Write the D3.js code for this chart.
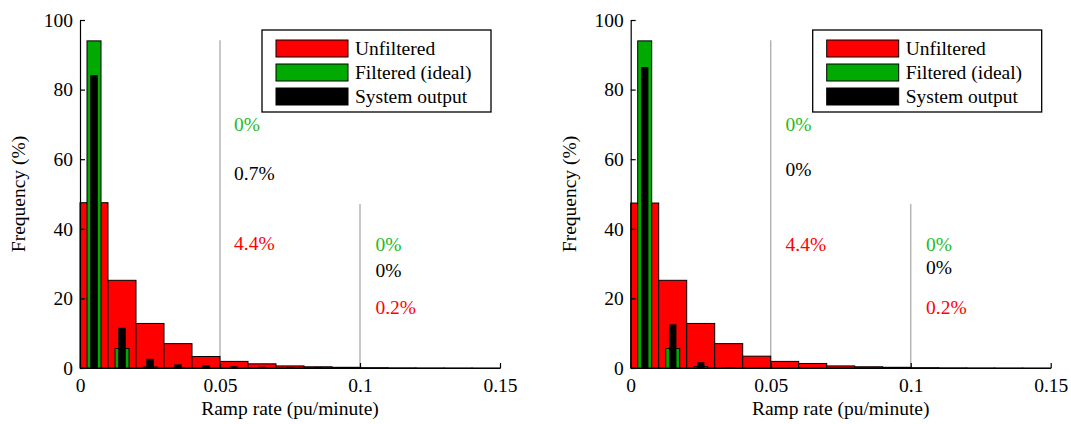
<!DOCTYPE html>
<html>
<head>
<meta charset="utf-8">
<script src="https://cdn.jsdelivr.net/npm/d3@7"></script>
<style>
  body { margin: 0; background: #fff; }
</style>
</head>
<body>
<svg id="grafico" width="1071" height="424"></svg>
<script>
// Centros de los intervalos (pu/minuto)
var centros = [0.005, 0.015, 0.025, 0.035, 0.045, 0.055, 0.065, 0.075, 0.085, 0.095, 0.105, 0.115, 0.125, 0.135, 0.145];

// Panel izquierdo
var rojoIzq = [47.5, 25.2, 12.8, 7.0, 3.3, 1.9, 1.2, 0.6, 0.35, 0.2, 0.1, 0.05, 0.03, 0.02, 0.01];
var verdeIzq = [94, 5.6, 0.3, 0.05, 0, 0, 0, 0, 0, 0, 0, 0, 0, 0, 0];
var negroIzq = [84, 11.4, 2.5, 0.9, 0.6, 0.35, 0.2, 0.1, 0.05, 0, 0, 0, 0, 0, 0];

// Panel derecho
var rojoDer = [47.4, 25.2, 12.8, 7.0, 3.4, 1.9, 1.3, 0.6, 0.35, 0.2, 0.1, 0.05, 0.03, 0.02, 0.01];
var verdeDer = [94, 5.6, 0.4, 0.05, 0, 0, 0, 0, 0, 0, 0, 0, 0, 0, 0];
var negroDer = [86.3, 12.4, 1.5, 0.1, 0, 0, 0, 0, 0, 0, 0, 0, 0, 0, 0];

// Lineas de umbral: [x, altura]
var umbrales = [[0.05, 94.2], [0.1, 47.1]];

// Etiquetas de porcentaje: [x, y, texto, color]
var notasIzq = [
    [0.055, 70, "0%", "#22bb22"], [0.055, 56, "0.7%", "black"], [0.055, 36, "4.4%", "red"],
    [0.1055, 35.5, "0%", "#22bb22"], [0.1055, 28.2, "0%", "black"], [0.1055, 17.5, "0.2%", "red"]
];
var notasDer = [
    [0.0553, 70, "0%", "#22bb22"], [0.0553, 57.2, "0%", "black"], [0.0553, 35.7, "4.4%", "red"],
    [0.1055, 35.5, "0%", "#22bb22"], [0.1055, 29, "0%", "black"], [0.1055, 17.5, "0.2%", "red"]
];

var ticksX = [0, 0.05, 0.1, 0.15];
var ticksY = [0, 20, 40, 60, 80, 100];
var leyenda = ["Unfiltered", "Filtered (ideal)", "System output"];
var colores = ["#ff0000", "#00aa00", "#000000"];

var letra = "Liberation Serif";
var fuente = 19.5;

var svg = d3.select("#grafico");

function texto(sel) {
    return sel.attr("font-family", letra).attr("font-size", fuente);
}

function panel(x0, rojo, verde, negro, notas) {
    var x = d3.scaleLinear().domain([0, 0.15]).range([x0, x0 + 420]);
    var y = d3.scaleLinear().domain([0, 100]).range([368, 20]);
    var g = svg.append("g");

    // Lineas de umbral grises
    g.selectAll(".umbral")
        .data(umbrales)
        .join("line")
        .attr("x1", function (d) { return x(d[0]); })
        .attr("x2", function (d) { return x(d[0]); })
        .attr("y1", y(0))
        .attr("y2", function (d) { return y(d[1]); })
        .style("stroke", "#b4b4b4")
        .style("stroke-width", 1.5);

    // Barras: ancho en unidades de x
    function barras(valores, ancho, color) {
        g.append("g").selectAll("rect")
            .data(valores.map(function (v, i) { return { c: centros[i], v: v }; }).filter(function (d) { return d.v > 0; }))
            .join("rect")
            .attr("x", function (d) { return x(d.c - ancho / 2); })
            .attr("width", function (d) { return x(d.c + ancho / 2) - x(d.c - ancho / 2); })
            .attr("y", function (d) { return y(d.v); })
            .attr("height", function (d) { return y(0) - y(d.v); })
            .style("fill", color)
            .style("stroke", "black")
            .style("stroke-width", 1);
    }
    barras(rojo, 0.01, colores[0]);
    barras(verde, 0.005, colores[1]);
    barras(negro, 0.0023, colores[2]);

    // Ejes
    var ejeX = d3.axisBottom(x).tickValues(ticksX).tickSize(-5).tickSizeOuter(0)
        .tickFormat(function (d) { return d === 0 ? "0" : String(d); });
    var gx = g.append("g").attr("transform", "translate(0," + y(0) + ")").call(ejeX);
    gx.selectAll("text").attr("y", 6).attr("dy", "0.9em");

    var ejeY = d3.axisLeft(y).tickValues(ticksY).tickSize(-5).tickSizeOuter(0);
    var gy = g.append("g").attr("transform", "translate(" + x0 + ",0)").call(ejeY);
    gy.selectAll("text").attr("x", -7);

    g.selectAll("g").attr("font-family", letra).attr("font-size", fuente);
    g.selectAll(".tick text").attr("fill", "black");
    g.selectAll(".domain, .tick line").style("stroke", "black").style("stroke-width", 1.2);

    // Titulos de los ejes
    g.append("text")
        .attr("x", x(0.075))
        .attr("y", 415)
        .attr("text-anchor", "middle")
        .call(texto)
        .text("Ramp rate (pu/minute)");
    g.append("text")
        .attr("transform", "translate(" + (x0 - 55) + "," + y(50) + ") rotate(-90)")
        .attr("text-anchor", "middle")
        .call(texto)
        .text("Frequency (%)");

    // Porcentajes
    g.selectAll(".nota")
        .data(notas)
        .join("text")
        .attr("x", function (d) { return x(d[0]); })
        .attr("y", function (d) { return y(d[1]); })
        .attr("dy", "0.35em")
        .call(texto)
        .attr("fill", function (d) { return d[3]; })
        .text(function (d) { return d[2]; });

    // Leyenda
    var lx = x0 + 182, ly = 30;
    var ley = g.append("g");
    ley.append("rect")
        .attr("x", lx).attr("y", ly).attr("width", 229).attr("height", 82)
        .style("fill", "white").style("stroke", "black").style("stroke-width", 1.3);
    var filas = ley.selectAll(".fila")
        .data(leyenda)
        .join("g")
        .attr("transform", function (d, i) { return "translate(" + (lx + 14) + "," + (ly + 18 + i * 24) + ")"; });
    filas.append("rect")
        .attr("x", 0).attr("y", -8).attr("width", 72).attr("height", 17)
        .style("fill", function (d, i) { return colores[i]; })
        .style("stroke", "black").style("stroke-width", 1);
    filas.append("text")
        .attr("x", 79).attr("dy", "0.35em")
        .call(texto)
        .text(function (d) { return d; });
}

panel(80, rojoIzq, verdeIzq, negroIzq, notasIzq);
panel(630.7, rojoDer, verdeDer, negroDer, notasDer);
</script>
</body>
</html>
